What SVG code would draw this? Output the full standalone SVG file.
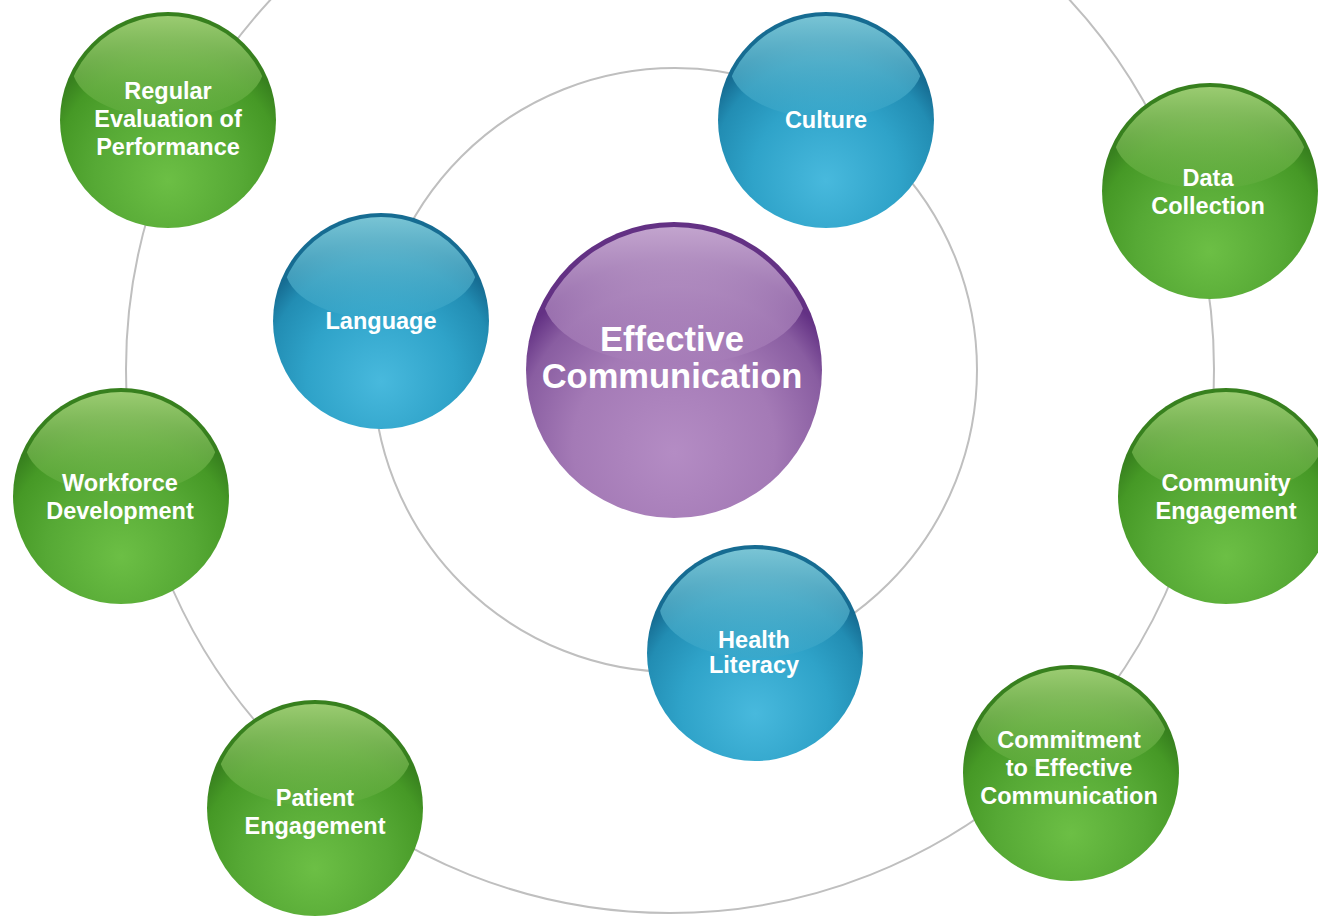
<svg xmlns="http://www.w3.org/2000/svg" width="1318" height="918" viewBox="0 0 1318 918">
<defs>
<style>
.lbl{font-family:"Liberation Sans",Arial,sans-serif;font-weight:bold;font-size:23.5px;fill:#ffffff;text-anchor:middle}
.big{font-size:34.5px}
.ring{fill:none;stroke:#bfbfbf;stroke-width:2}
</style>
<clipPath id="clipS"><circle cx="0" cy="0" r="104"/></clipPath>
<clipPath id="clipL"><circle cx="0" cy="0" r="143"/></clipPath>
<radialGradient id="gBase" cx="0.5" cy="0.74" r="0.62" fx="0.5" fy="0.78">
<stop offset="0" stop-color="#6cbf45"/><stop offset="0.55" stop-color="#56a935"/><stop offset="0.85" stop-color="#469926"/><stop offset="1" stop-color="#37801e"/>
</radialGradient>
<radialGradient id="bBase" cx="0.5" cy="0.74" r="0.62" fx="0.5" fy="0.78">
<stop offset="0" stop-color="#48b9dd"/><stop offset="0.55" stop-color="#2fa3c9"/><stop offset="0.85" stop-color="#228db3"/><stop offset="1" stop-color="#166c92"/>
</radialGradient>
<radialGradient id="pBase" cx="0.5" cy="0.74" r="0.62" fx="0.5" fy="0.78">
<stop offset="0" stop-color="#b48cc4"/><stop offset="0.55" stop-color="#a47ab6"/><stop offset="0.85" stop-color="#895da1"/><stop offset="1" stop-color="#633184"/>
</radialGradient>
<linearGradient id="gHi" x1="0" y1="0" x2="0" y2="1">
<stop offset="0" stop-color="#a0cf76" stop-opacity="0.97"/><stop offset="1" stop-color="#62ad3e" stop-opacity="0.5"/>
</linearGradient>
<linearGradient id="bHi" x1="0" y1="0" x2="0" y2="1">
<stop offset="0" stop-color="#7ec8d7" stop-opacity="0.97"/><stop offset="1" stop-color="#3ba7c9" stop-opacity="0.5"/>
</linearGradient>
<linearGradient id="pHi" x1="0" y1="0" x2="0" y2="1">
<stop offset="0" stop-color="#c8abd2" stop-opacity="0.97"/><stop offset="1" stop-color="#a67cb8" stop-opacity="0.5"/>
</linearGradient>
</defs>
<rect width="1318" height="918" fill="#ffffff"/>
<g id="connectors">
<circle class="ring" cx="670" cy="369" r="544"/>
<circle class="ring" cx="675" cy="370" r="302"/>
</g>
<g id="node-regular-evaluation" transform="translate(168 120)">
<circle r="108" fill="url(#gBase)"/>
<ellipse cy="-54" rx="96" ry="52" fill="url(#gHi)" clip-path="url(#clipS)"/>
<text class="lbl" x="0" y="-21">Regular</text>
<text class="lbl" x="0" y="7">Evaluation of</text>
<text class="lbl" x="0" y="35">Performance</text>
</g>
<g id="node-culture" transform="translate(826 120)">
<circle r="108" fill="url(#bBase)"/>
<ellipse cy="-54" rx="96" ry="52" fill="url(#bHi)" clip-path="url(#clipS)"/>
<text class="lbl" x="0" y="8">Culture</text>
</g>
<g id="node-data-collection" transform="translate(1210 191)">
<circle r="108" fill="url(#gBase)"/>
<ellipse cy="-54" rx="96" ry="52" fill="url(#gHi)" clip-path="url(#clipS)"/>
<text class="lbl" x="-2" y="-5">Data</text>
<text class="lbl" x="-2" y="23">Collection</text>
</g>
<g id="node-language" transform="translate(381 321)">
<circle r="108" fill="url(#bBase)"/>
<ellipse cy="-54" rx="96" ry="52" fill="url(#bHi)" clip-path="url(#clipS)"/>
<text class="lbl" x="0" y="8">Language</text>
</g>
<g id="node-effective-communication" transform="translate(674 370)">
<circle r="148" fill="url(#pBase)"/>
<ellipse cy="-76" rx="132" ry="71" fill="url(#pHi)" clip-path="url(#clipL)"/>
<text class="lbl big" x="-2" y="-19">Effective</text>
<text class="lbl big" x="-2" y="18">Communication</text>
</g>
<g id="node-workforce-development" transform="translate(121 496)">
<circle r="108" fill="url(#gBase)"/>
<ellipse cy="-54" rx="96" ry="52" fill="url(#gHi)" clip-path="url(#clipS)"/>
<text class="lbl" x="-1" y="-5">Workforce</text>
<text class="lbl" x="-1" y="23">Development</text>
</g>
<g id="node-community-engagement" transform="translate(1226 496)">
<circle r="108" fill="url(#gBase)"/>
<ellipse cy="-54" rx="96" ry="52" fill="url(#gHi)" clip-path="url(#clipS)"/>
<text class="lbl" x="0" y="-5">Community</text>
<text class="lbl" x="0" y="23">Engagement</text>
</g>
<g id="node-health-literacy" transform="translate(755 653)">
<circle r="108" fill="url(#bBase)"/>
<ellipse cy="-50" rx="96" ry="55" fill="url(#bHi)" clip-path="url(#clipS)"/>
<text class="lbl" x="-1" y="-5">Health</text>
<text class="lbl" x="-1" y="20">Literacy</text>
</g>
<g id="node-patient-engagement" transform="translate(315 808)">
<circle r="108" fill="url(#gBase)"/>
<ellipse cy="-54" rx="96" ry="52" fill="url(#gHi)" clip-path="url(#clipS)"/>
<text class="lbl" x="0" y="-2">Patient</text>
<text class="lbl" x="0" y="26">Engagement</text>
</g>
<g id="node-commitment" transform="translate(1071 773)">
<circle r="108" fill="url(#gBase)"/>
<ellipse cy="-54" rx="96" ry="52" fill="url(#gHi)" clip-path="url(#clipS)"/>
<text class="lbl" x="-2" y="-25">Commitment</text>
<text class="lbl" x="-2" y="3">to Effective</text>
<text class="lbl" x="-2" y="31">Communication</text>
</g>
</svg>
